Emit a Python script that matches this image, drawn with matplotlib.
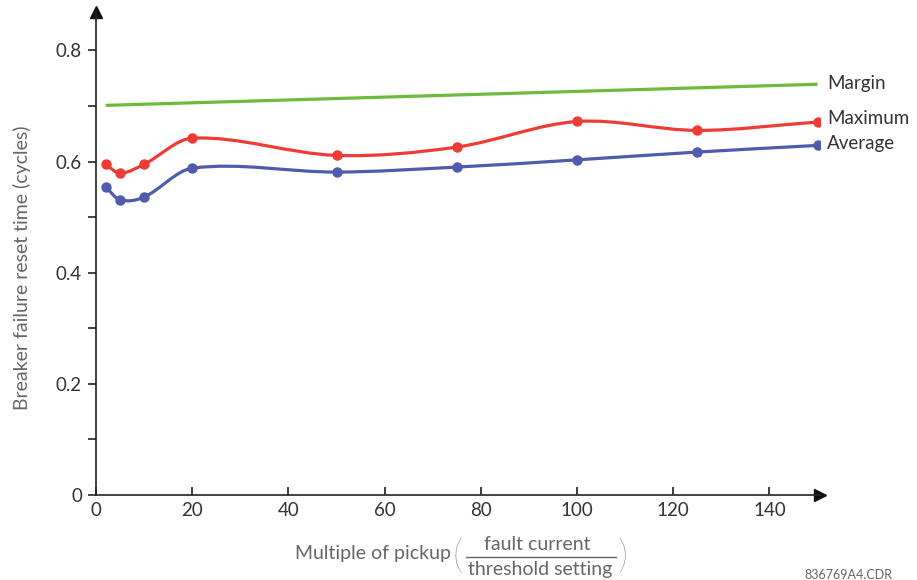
import numpy as np
import matplotlib
matplotlib.use("Agg")
import matplotlib.pyplot as plt
from matplotlib.path import Path
from matplotlib.patches import PathPatch

# ---- data ----
x_pts = [2, 5, 10, 20, 50, 75, 100, 125, 150]
maximum = [0.595, 0.579, 0.595, 0.642, 0.611, 0.626, 0.672, 0.656, 0.671]
average = [0.554, 0.531, 0.536, 0.588, 0.581, 0.590, 0.603, 0.617, 0.629]
margin_x = [2, 150]
margin_y = [0.701, 0.739]
x_ticks = [0, 20, 40, 60, 80, 100, 120, 140]
y_ticks = [0, 0.2, 0.4, 0.6, 0.8]
y_minor = [0.1, 0.3, 0.5, 0.7]
y_ticklabels = ["0", "0.2", "0.4", "0.6", "0.8"]

plt.rcParams['font.family'] = ['Lato', 'DejaVu Sans']
TXT = '#333333'
GRAY = '#666666'
RED = '#ef3b36'
BLUE = '#4f5cae'
GREEN = '#6dbb3c'

fig = plt.figure(figsize=(9.17, 5.8), dpi=100)
ax = fig.add_axes([96/917, 1-495/580, (820-96)/917, (495-12)/580])
ax.set_xlim(0, 150.5)
ax.set_ylim(0, 0.869)


def smooth_path(xs, ys):
    xs = np.asarray(xs, float); ys = np.asarray(ys, float)
    n = len(xs)
    verts = [(xs[0], ys[0])]
    codes = [Path.MOVETO]
    for i in range(n - 1):
        p0 = i - 1 if i > 0 else i
        p3 = i + 2 if i + 2 < n else i + 1
        h = xs[i + 1] - xs[i]
        m1 = (ys[i + 1] - ys[p0]) / (xs[i + 1] - xs[p0])
        m2 = (ys[p3] - ys[i]) / (xs[p3] - xs[i])
        c1 = (xs[i] + h / 3, ys[i] + m1 * h / 3)
        c2 = (xs[i + 1] - h / 3, ys[i + 1] - m2 * h / 3)
        verts += [c1, c2, (xs[i + 1], ys[i + 1])]
        codes += [Path.CURVE4] * 3
    return Path(verts, codes)


for ys, col in [(maximum, RED), (average, BLUE)]:
    ax.add_patch(PathPatch(smooth_path(x_pts, ys), facecolor='none',
                           edgecolor=col, lw=2.3, capstyle='round'))
    ax.plot(x_pts, ys, 'o', color=col, ms=6.5, zorder=5)

ax.plot(margin_x, margin_y, color=GREEN, lw=2.3, solid_capstyle='butt')

# series labels
FS = 13.5
ax.text(152, margin_y[-1] + 0.002, 'Margin', fontsize=FS, color=TXT,
        va='center', ha='left', clip_on=False)
ax.text(152, maximum[-1] + 0.006, 'Maximum', fontsize=FS, color=TXT,
        va='center', ha='left', clip_on=False)
ax.text(152, average[-1] + 0.004, 'Average', fontsize=FS, color=TXT,
        va='center', ha='left', clip_on=False)

# axes styling
for s in ['top', 'right']:
    ax.spines[s].set_visible(False)
for s in ['left', 'bottom']:
    ax.spines[s].set_color('#222222')
    ax.spines[s].set_linewidth(1.2)
ax.plot(1, 0, '>', color='#111111', ms=8, transform=ax.transAxes, clip_on=False)
ax.plot(0, 1, '^', color='#111111', ms=8, transform=ax.transAxes, clip_on=False)

ax.set_xticks(x_ticks)
ax.set_xticklabels([str(v) for v in x_ticks])
ax.set_yticks(y_ticks)
ax.set_yticklabels(y_ticklabels)
ax.set_yticks(y_minor, minor=True)
ax.tick_params(axis='x', direction='in', length=6, width=1.2, colors='#222222',
               labelsize=13.5, labelcolor=TXT, pad=5)
ax.tick_params(axis='y', which='both', direction='out', length=6, width=1.2,
               colors='#222222', labelsize=13.5, labelcolor=TXT, pad=4)

# y label
fig.text(22/917, 1-268/580, 'Breaker failure reset time (cycles)', rotation=90,
         fontsize=14, color=GRAY, ha='center', va='center')

# x label with fraction
fig.text(451/917, 1-553/580, 'Multiple of pickup', fontsize=14, color=GRAY,
         ha='right', va='center')
fig.text(457/917, 1-557/580, '(', fontsize=29, color=GRAY, ha='center',
         va='center', fontweight='light')
fig.text(622/917, 1-557/580, ')', fontsize=29, color=GRAY, ha='center',
         va='center', fontweight='light')
fig.text(537/917, 1-545/580, 'fault current', fontsize=14, color=GRAY,
         ha='center', va='center')
fig.text(540/917, 1-569/580, 'threshold setting', fontsize=14, color=GRAY,
         ha='center', va='center')
fig.add_artist(plt.Line2D([466/917, 616/917], [1-557/580, 1-557/580],
                          color=GRAY, lw=1.0))

fig.text(892/917, 1-575/580, '836769A4.CDR', fontsize=9, color=GRAY,
         ha='right', va='center')

fig.savefig('out.png', dpi=100)
